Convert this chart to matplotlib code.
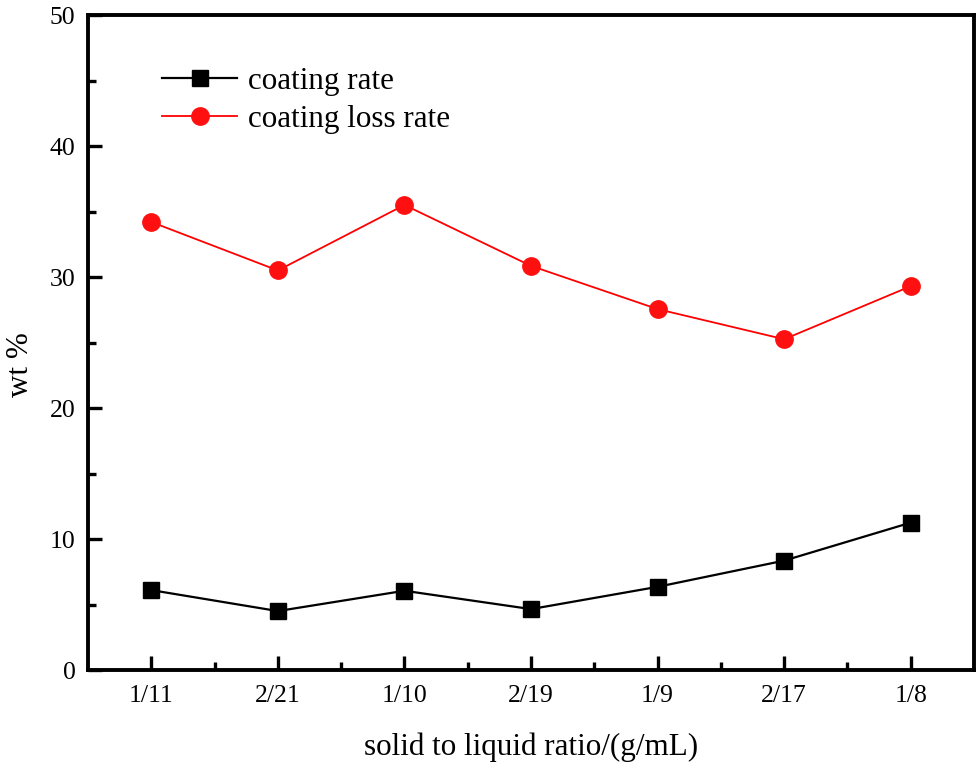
import numpy as np
import matplotlib as mpl
import matplotlib.pyplot as plt
from matplotlib.ticker import MultipleLocator

# data
ratios = ['1/11', '2/21', '1/10', '2/19', '1/9', '2/17', '1/8']
coating_rate = [6.1, 4.5, 6.05, 4.65, 6.35, 8.35, 11.25]
coating_loss_rate = [34.2, 30.5, 35.5, 30.85, 27.55, 25.25, 29.3]

mpl.rcParams['font.family'] = ['Liberation Serif', 'DejaVu Serif']
mpl.rcParams['font.size'] = 18

fig = plt.figure(figsize=(9.8, 7.66), dpi=100)
ax = fig.add_axes([0.0898, 0.1253, 0.9041, 0.8551])

x = np.arange(len(ratios))
ax.plot(x, coating_rate, color='black', lw=1.6, marker='s', ms=11,
		label='coating rate')
ax.plot(x, coating_loss_rate, color='#ff0000', lw=1.3, marker='o', ms=12.5,
		mec='#ff1010', mfc='#ff1010', label='coating loss rate')

ax.set_xlim(-0.5, 6.5)
ax.set_ylim(0, 50)
ax.set_xticks(x)
ax.set_xticklabels(ratios)
ax.set_xticks(x[:-1] + 0.5, minor=True)
ax.yaxis.set_major_locator(MultipleLocator(10))
ax.yaxis.set_minor_locator(MultipleLocator(5))

for s in ax.spines.values():
	s.set_linewidth(2.8)
ax.tick_params(which='major', direction='in', length=10, width=2.4, pad=9,
			   labelsize=18.5)
ax.tick_params(axis='x', which='major', pad=11)
ax.tick_params(which='minor', direction='in', length=5.5, width=2.4)

ax.set_xlabel('solid to liquid ratio/(g/mL)', fontsize=22.4, labelpad=18)
ax.set_ylabel('wt %', fontsize=22.4)
ax.yaxis.set_label_coords(-0.060, 0.466)

ax.legend(loc='upper left', bbox_to_anchor=(0.07, 0.94), frameon=False,
		  fontsize=22.4, handlelength=2.4, handletextpad=0.35, labelspacing=0.3,
		  borderaxespad=0)

plt.savefig('out.png', dpi=100)
